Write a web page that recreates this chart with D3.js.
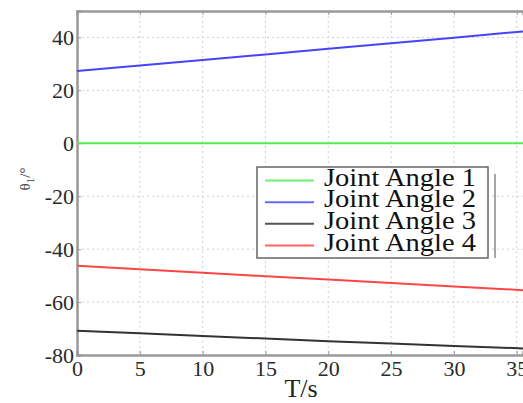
<!DOCTYPE html>
<html>
<head>
<meta charset="utf-8">
<script src="https://cdn.jsdelivr.net/npm/d3@7"></script>
<style>
  body { margin: 0; background: #fff; }
  svg { display: block; font-family: "Liberation Serif", "Times New Roman", serif; }
</style>
</head>
<body>
<div id="chart"></div>
<script>
const width = 523;
const height = 403;

// data (time in s, angle in degrees)
const times = [0, 5, 10, 15, 20, 25, 30, 35.5];
const angle1 = [0, 0, 0, 0, 0, 0, 0, 0];
const angle2 = [27.3, 29.4, 31.5, 33.6, 35.7, 37.8, 39.9, 42.3];
const angle3 = [-70.8, -71.8, -72.8, -73.8, -74.8, -75.7, -76.6, -77.5];
const angle4 = [-46.3, -47.6, -48.9, -50.2, -51.5, -52.8, -54.1, -55.5];
const seriesNames = ["Joint Angle 1", "Joint Angle 2", "Joint Angle 3", "Joint Angle 4"];
const seriesColors = ["#4cee4c", "#4444ff", "#333333", "#ff4646"];
const legendColors = ["#70f070", "#6868ff", "#555555", "#ff6262"];
const xTicks = [0, 5, 10, 15, 20, 25, 30, 35];
const yTicks = [-80, -60, -40, -20, 0, 20, 40];

const svg = d3.select("#chart").append("svg")
    .attr("width", width)
    .attr("height", height);

const x = d3.scaleLinear().domain([0, 35.5]).range([77, 523]);
const y = d3.scaleLinear().domain([-80, 50]).range([355, 11]);

// dotted grid
svg.append("g").selectAll("line")
    .data(yTicks.slice(1))
    .enter().append("line")
    .attr("x1", x(0)).attr("x2", width)
    .attr("y1", d => y(d)).attr("y2", d => y(d))
    .style("stroke", "#cfcfcf")
    .style("stroke-width", 1)
    .style("stroke-dasharray", "2,3");

svg.append("g").selectAll("line")
    .data(xTicks.slice(1))
    .enter().append("line")
    .attr("x1", d => x(d)).attr("x2", d => x(d))
    .attr("y1", y(50)).attr("y2", y(-80))
    .style("stroke", "#cfcfcf")
    .style("stroke-width", 1)
    .style("stroke-dasharray", "2,3");

// axes
const xAxis = svg.append("g")
    .attr("transform", `translate(0,${y(-80)})`)
    .call(d3.axisBottom(x).tickValues(xTicks).tickFormat(d => String(d)).tickSize(-4).tickPadding(5));
const yAxis = svg.append("g")
    .attr("transform", `translate(${x(0)},0)`)
    .call(d3.axisLeft(y).tickValues(yTicks).tickFormat(d => String(d)).tickSize(-4).tickPadding(3));
const xTop = svg.append("g")
    .attr("transform", `translate(0,${y(50)})`)
    .call(d3.axisTop(x).tickValues(xTicks).tickFormat("").tickSize(-4));

[xAxis, yAxis, xTop].forEach(g => {
    g.attr("font-family", null).attr("font-size", null);
    g.select(".domain").style("stroke", "#999").style("stroke-width", 2.5);
    g.selectAll(".tick line").style("stroke", "#999");
    g.selectAll(".tick text")
        .style("font-family", "'Liberation Serif', serif")
        .style("font-size", "22px")
        .style("fill", "#2a2a2a");
});

// series
const allSeries = [angle1, angle2, angle3, angle4];
const line = d3.line().x((d, i) => x(times[i])).y(d => y(d));

svg.selectAll("path.series")
    .data(allSeries)
    .enter().append("path")
    .attr("class", "series")
    .attr("d", line)
    .style("fill", "none")
    .style("stroke", (d, i) => seriesColors[i])
    .style("stroke-width", 2);

// axis titles
svg.append("text")
    .attr("x", 301).attr("y", 397)
    .attr("text-anchor", "middle")
    .style("font-size", "26px")
    .style("fill", "#222")
    .text("T/s");

const yTitle = svg.append("text")
    .attr("transform", "translate(30,179) rotate(-90)")
    .attr("text-anchor", "middle")
    .style("font-size", "15px")
    .style("fill", "#444");
yTitle.append("tspan").text("θ");
yTitle.append("tspan").attr("dy", 4).style("font-size", "11px").text("1");
yTitle.append("tspan").attr("dy", -4).text("/°");

// legend
const legend = svg.append("g");
legend.append("rect")
    .attr("x", 257).attr("y", 167)
    .attr("width", 231).attr("height", 91)
    .style("fill", "#fff")
    .style("stroke", "#666")
    .style("stroke-width", 1.5);
legend.append("line")
    .attr("x1", 495).attr("x2", 495)
    .attr("y1", 174).attr("y2", 258)
    .style("stroke", "#888")
    .style("stroke-width", 1.5);

const rowY = d3.scalePoint().domain(seriesNames).range([180.5, 245.5]);
const rows = legend.selectAll("g.row")
    .data(seriesNames)
    .enter().append("g")
    .attr("transform", d => `translate(0,${rowY(d)})`);
rows.append("line")
    .attr("x1", 265).attr("x2", 314)
    .style("stroke", (d, i) => legendColors[i])
    .style("stroke-width", 2);
rows.append("text")
    .attr("x", 324).attr("y", 5)
    .attr("textLength", 152)
    .attr("lengthAdjust", "spacingAndGlyphs")
    .style("font-size", "26px")
    .style("fill", "#111")
    .text(d => d);
</script>
</body>
</html>
